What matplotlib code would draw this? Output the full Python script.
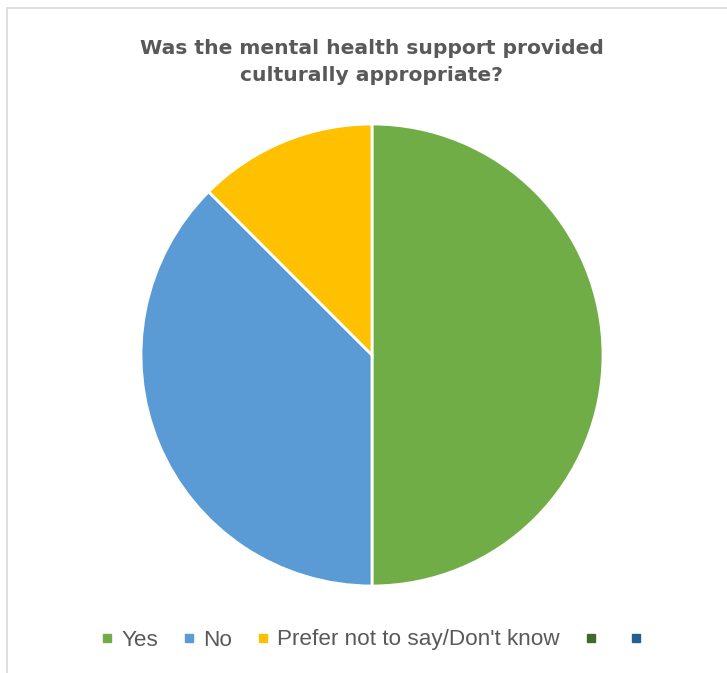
import matplotlib.pyplot as plt
from matplotlib.lines import Line2D
from matplotlib.patches import Rectangle

plt.rcParams["font.family"] = ["Liberation Sans", "DejaVu Sans"]

labels = ["Yes", "No", "Prefer not to say/Don't know"]
shares = [50.0, 37.5, 12.5]
colors = ["#70AD47", "#5B9BD5", "#FFC000"]
extra_colors = ["#43682B", "#255E91"]

W, H = 727, 673
fig = plt.figure(figsize=(W / 100, H / 100), dpi=100)

# outer chart border (left/top visible, rest cropped)
fig.patches.append(Rectangle((7 / W, -0.1), 1.2, 1 - 8 / H + 0.1, transform=fig.transFigure,
                             fill=False, edgecolor="#D9D9D9", linewidth=1.2))

cx, cy, r = 372, 355, 231
ax = fig.add_axes([(cx - r) / W, 1 - (cy + r) / H, 2 * r / W, 2 * r / H])
ax.pie(shares, colors=colors, startangle=90, counterclock=False,
       wedgeprops=dict(edgecolor="white", linewidth=2))
ax.set_xlim(-1, 1)
ax.set_ylim(-1, 1)
ax.axis("off")

fig.text(372 / W, 1 - 62 / H, "Was the mental health support provided\nculturally appropriate?",
         ha="center", va="center", fontsize=14.6, fontweight="bold", color="#595959",
         linespacing=1.55, family=["DejaVu Sans"])

handles = [Line2D([], [], marker="s", linestyle="none", markersize=6, color=c)
           for c in colors + extra_colors]
leg_labels = labels + ["", ""]
fig.legend(handles, leg_labels, loc="center", bbox_to_anchor=(376 / W, 1 - 640 / H),
           ncol=5, frameon=False, fontsize=16.2, handlelength=0.45,
           handletextpad=0.4, columnspacing=1.15, labelcolor="#595959")

fig.savefig("out.png", dpi=100)
